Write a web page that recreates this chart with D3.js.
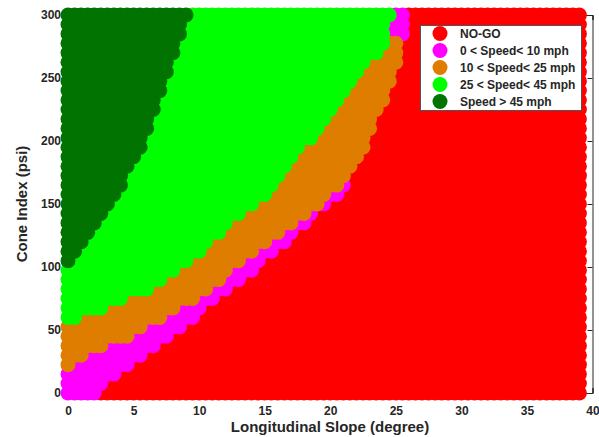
<!DOCTYPE html>
<html>
<head>
<meta charset="utf-8">
<script src="https://cdn.jsdelivr.net/npm/d3@7"></script>
<style>
  body { margin: 0; background: #fff; }
  text { font-family: Arial, "Liberation Sans", sans-serif; font-weight: bold; fill: #262626; }
</style>
</head>
<body>
<svg id="chart" width="599" height="437"></svg>
<script>
// classes, legend order (also drawing order)
const classNames = ['NO-GO', '0 < Speed< 10 mph', '10 < Speed< 25 mph', '25 < Speed< 45 mph', 'Speed > 45 mph'];
const classColors = ['#ff0000', '#ff00ff', '#df7d00', '#00ff00', '#007300'];

const slopeTicks = [0, 5, 10, 15, 20, 25, 30, 35, 40];
const coneTicks = [0, 50, 100, 150, 200, 250, 300];

// sampling grid of the map
const slopeGrid = d3.range(0, 39.01, 0.5);
const coneGrid = d3.range(0, 300.01, 7.5);

// class boundaries: [slope (deg), cone index (psi)]
// NO-GO below this line
const redTopSlope = [0, 2.3, 2.8, 4.5, 6, 7.5, 9.5, 11, 12.3, 15.2, 16.7, 18.7, 20.7, 22, 22.5, 23.2, 24.3, 25.1, 25.4, 25.9, 40];
const redTopCone  = [-10, -1, 8, 21, 32, 42, 60, 74, 82, 108, 121, 140, 159, 183, 195, 211, 235, 259, 278, 310, 500];
// 0-10 mph band
const pinkTopSlope = [0, 0.9, 4, 5.5, 7, 9.5, 11, 13.3, 16.4, 18.2, 19.7, 20.7, 22, 40];
const pinkTopCone  = [22, 29, 42, 50, 58, 74, 84, 106, 127, 143, 156, 167, 183, 500];
// 10-25 mph band
const orangeTopSlope = [0, 0.9, 2.4, 4, 5.5, 7, 8.5, 10, 12.6, 15.2, 17.7, 20, 21.5, 23, 24, 24.5, 25.5, 26, 40];
const orangeTopCone  = [57, 60, 67, 74, 80, 87, 98, 110, 137, 159, 193, 219, 243, 264, 276, 278, 280, 310, 500];
// small 0-10 mph patch at the top
const capTopSlope = [0, 24.2, 24.4, 25, 40];
const capTopCone  = [0, 0, 290, 330, 500];
// 25-45 mph below this line, > 45 mph above
const greenTopSlope = [0, 3.2, 5.9, 7.5, 9.0, 40];
const greenTopCone  = [100, 150, 200, 250, 300, 1000];

const svg = d3.select('#chart');

const x = d3.scaleLinear().domain([0, 40]).range([68, 592.5]);
const y = d3.scaleLinear().domain([0, 300]).range([393, 15]);

const line = (s, c) => d3.scaleLinear().domain(s).range(c).clamp(true);
const redTop = line(redTopSlope, redTopCone);
const pinkTop = line(pinkTopSlope, pinkTopCone);
const orangeTop = line(orangeTopSlope, orangeTopCone);
const capTop = line(capTopSlope, capTopCone);
const greenTop = line(greenTopSlope, greenTopCone);

function classify(s, c) {
  if (c < redTop(s)) return 0;
  if (c < pinkTop(s)) return 1;
  if (c < orangeTop(s)) return 2;
  if (c < capTop(s)) return 1;
  if (c < greenTop(s)) return 3;
  return 4;
}

const points = [];
slopeGrid.forEach(s => coneGrid.forEach(c => points.push({ s, c, k: classify(s, c) })));

// axes box (under the data, like MATLAB)
const ax = svg.append('g').attr('class', 'axes');
ax.append('g')
  .attr('transform', `translate(0,${y(0)})`)
  .call(d3.axisBottom(x).tickValues(slopeTicks).tickSize(-5).tickPadding(13).tickFormat(d3.format('d')));
ax.append('g')
  .attr('transform', `translate(${x(0)},0)`)
  .call(d3.axisLeft(y).tickValues(coneTicks).tickSize(-5).tickPadding(7).tickFormat(d3.format('d')));
ax.append('g')
  .attr('transform', `translate(0,${y(300)})`)
  .call(d3.axisTop(x).tickValues(slopeTicks).tickSize(-5).tickFormat(''));
ax.append('g')
  .attr('transform', `translate(${x(40)},0)`)
  .call(d3.axisRight(y).tickValues(coneTicks).tickSize(-5).tickFormat(''));
ax.selectAll('.domain, .tick line').attr('stroke', '#262626');
ax.selectAll('.tick text').attr('font-size', 12).attr('font-family', null);

// map
svg.append('g')
  .selectAll('g')
  .data(classColors)
  .join('g')
  .attr('fill', d => d)
  .each(function(col, k) {
    d3.select(this)
      .selectAll('circle')
      .data(points.filter(p => p.k === k))
      .join('circle')
      .attr('cx', d => x(d.s))
      .attr('cy', d => y(d.c))
      .attr('r', 7.5);
  });

// axis titles
svg.append('text')
  .attr('x', 330)
  .attr('y', 432)
  .attr('text-anchor', 'middle')
  .attr('font-size', 15)
  .text('Longitudinal Slope (degree)');
svg.append('text')
  .attr('transform', 'translate(27,204) rotate(-90)')
  .attr('text-anchor', 'middle')
  .attr('font-size', 15)
  .text('Cone Index (psi)');

// legend
const lg = svg.append('g').attr('transform', 'translate(420,25)');
lg.append('rect')
  .attr('x', 0.5).attr('y', 0.5)
  .attr('width', 161).attr('height', 85)
  .attr('fill', '#fff')
  .attr('stroke', '#555');
const item = lg.selectAll('.item')
  .data(classNames)
  .join('g')
  .attr('class', 'item')
  .attr('transform', (d, i) => `translate(0,${8.5 + i * 17})`);
item.append('circle')
  .attr('cx', 20)
  .attr('r', 7.5)
  .attr('fill', (d, i) => classColors[i]);
item.append('text')
  .attr('x', 40)
  .attr('dy', '0.36em')
  .attr('font-size', 12)
  .text(d => d);
</script>
</body>
</html>
